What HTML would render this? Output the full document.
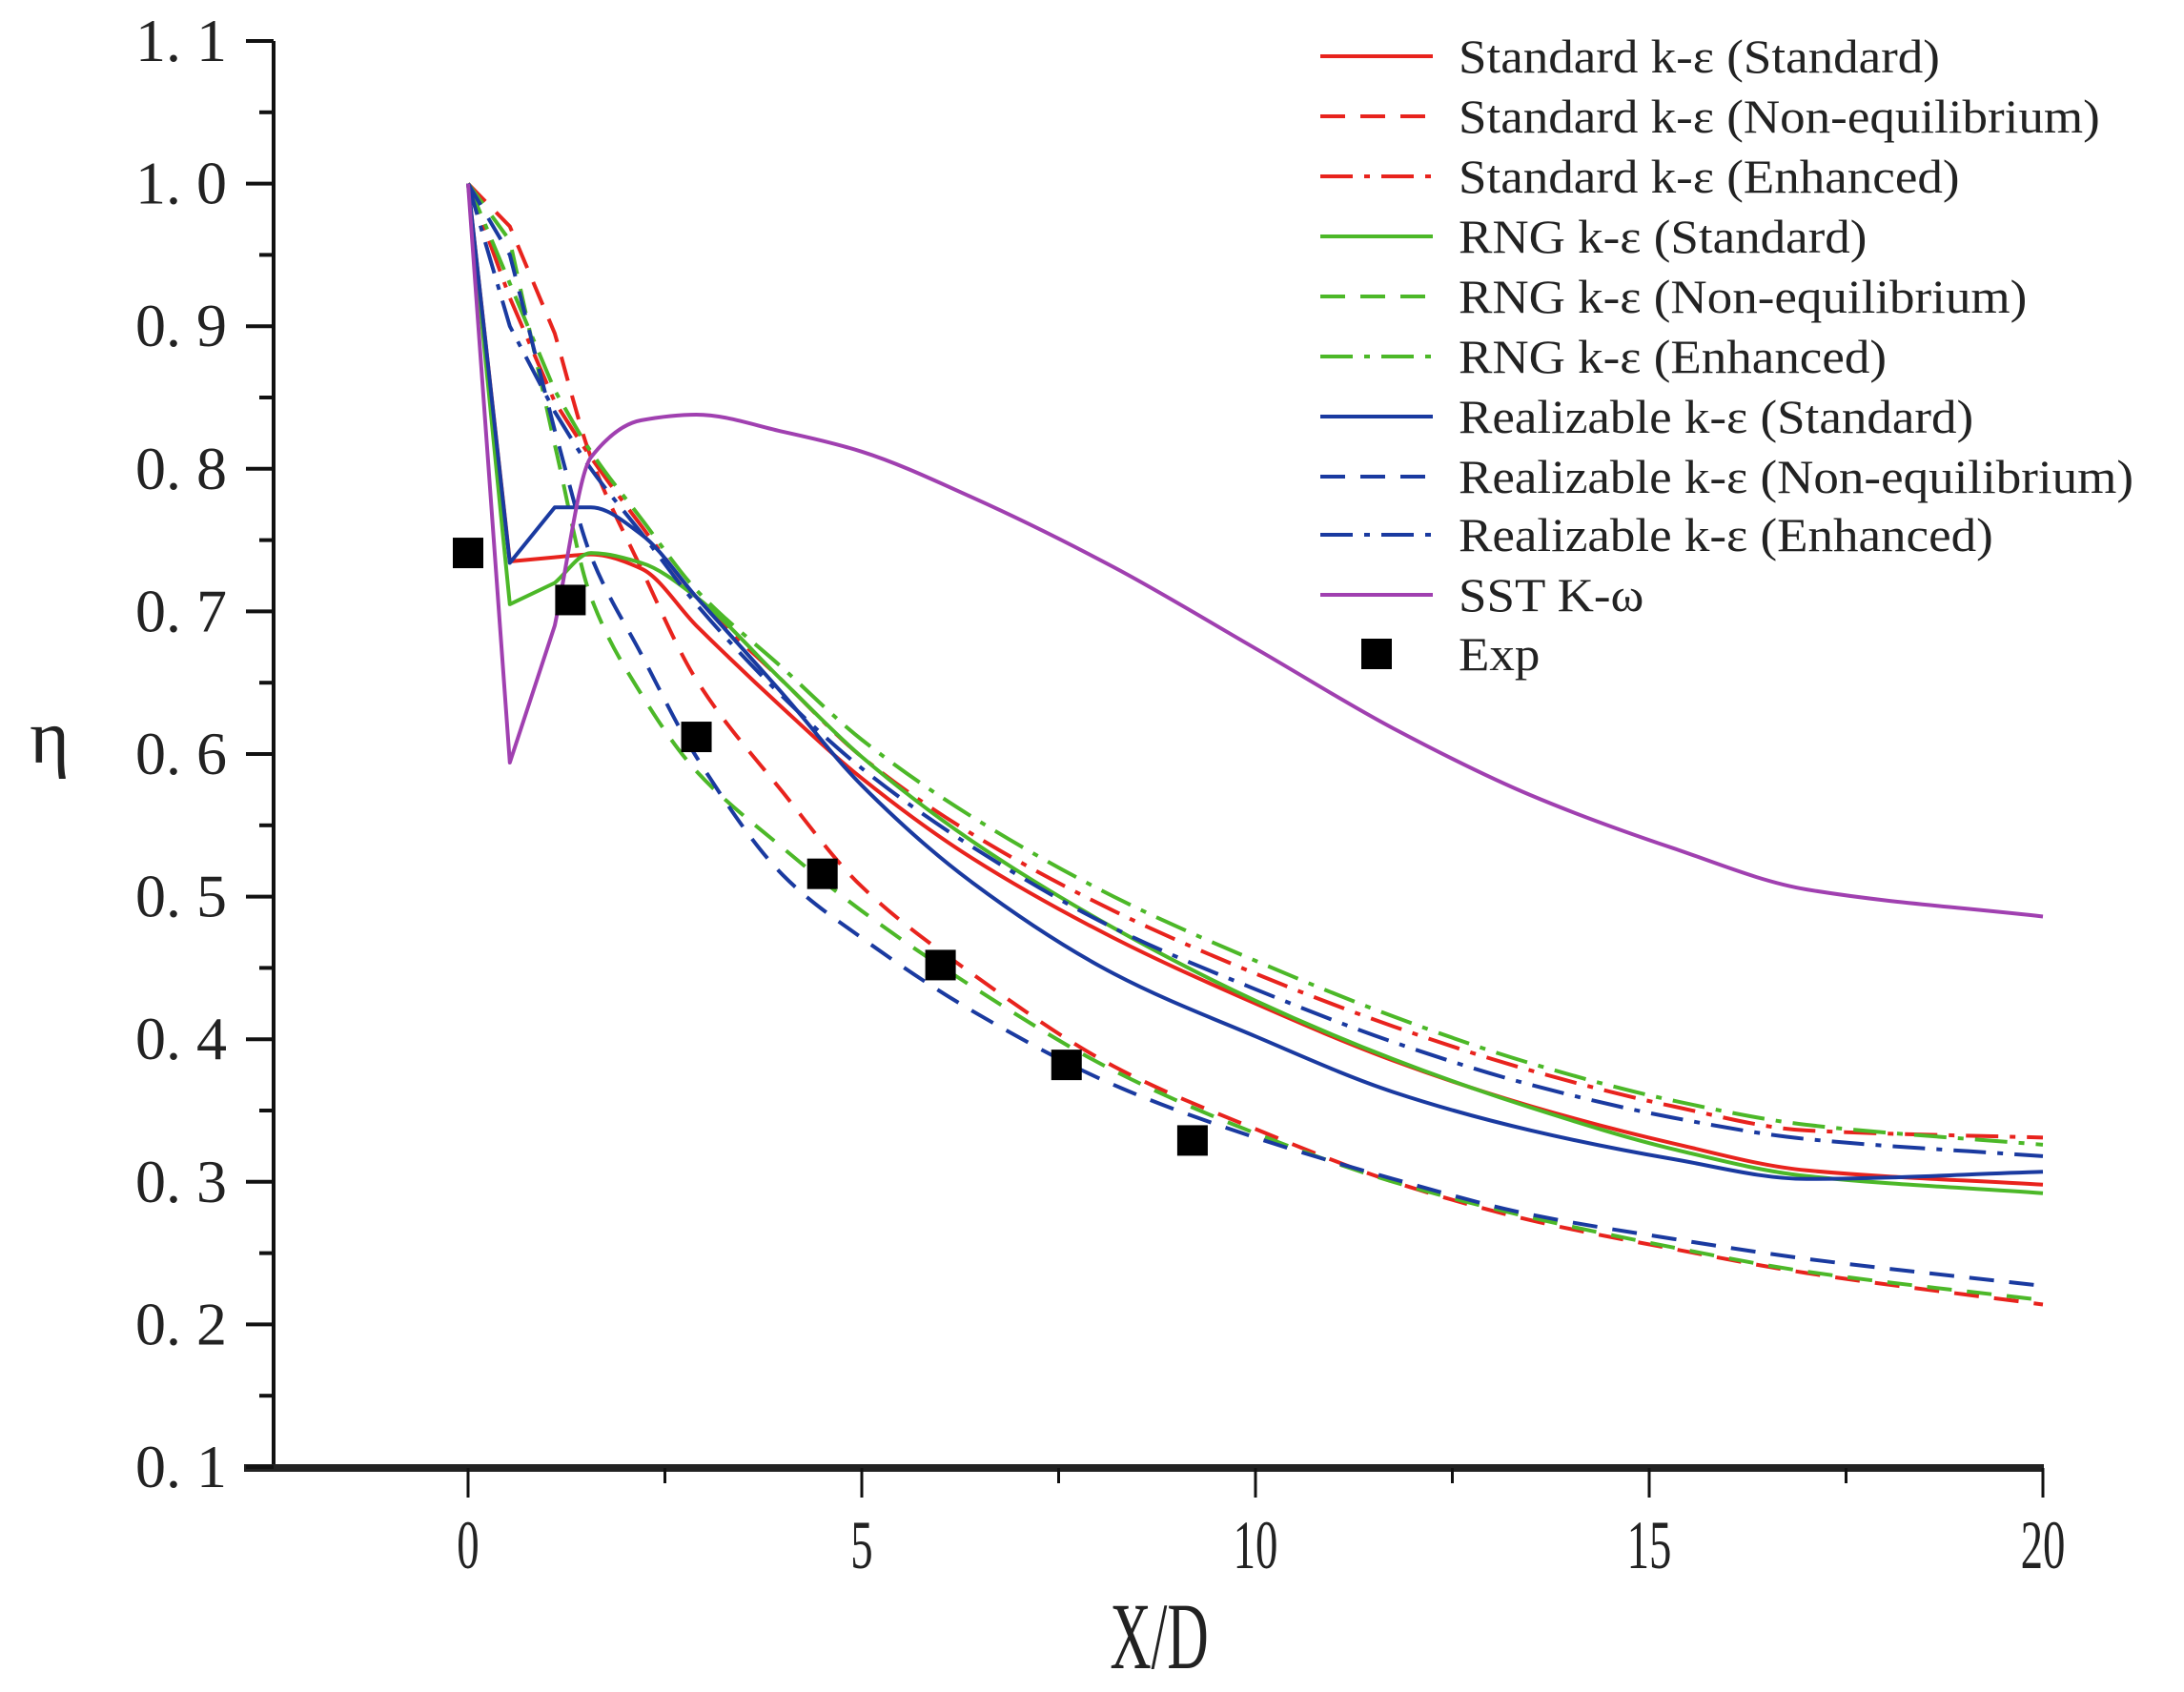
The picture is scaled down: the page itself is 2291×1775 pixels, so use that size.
<!DOCTYPE html>
<html><head><meta charset="utf-8"><style>
html,body{margin:0;padding:0;background:#fff;}
svg{display:block;}
text{font-family:"Liberation Serif",serif;fill:#222;}
</style></head><body>
<svg id="chart" width="2291" height="1775" viewBox="0 0 2291 1775" xmlns="http://www.w3.org/2000/svg">
<g id="axes"></g>
<g id="series"></g>
<g id="legend"></g>
</svg>
<script>
const xs = [0,0.53,1.1,1.56,2.2,2.9,4,5,6.4,8.2,10,11.75,13.5,15.3,17,20];
const stdStd = [1.0,0.735,0.738,0.74,0.73,0.69,0.632,0.583,0.527,0.471,0.425,0.385,0.353,0.327,0.308,0.298];
const stdNon = [1.0,0.97,0.895,0.808,0.73,0.652,0.573,0.507,0.446,0.381,0.337,0.3,0.273,0.253,0.236,0.214];
const stdEnh = [1.0,0.92,0.847,0.808,0.76,0.71,0.651,0.598,0.544,0.49,0.446,0.409,0.378,0.353,0.336,0.331];
const rngStd = [1.0,0.705,0.72,0.741,0.734,0.71,0.651,0.598,0.539,0.478,0.427,0.386,0.352,0.323,0.304,0.292];
const rngNon = [1.0,0.96,0.817,0.71,0.642,0.588,0.534,0.49,0.437,0.378,0.334,0.3,0.275,0.254,0.237,0.217];
const rngEnh = [1.0,0.93,0.855,0.812,0.765,0.715,0.66,0.61,0.556,0.5,0.455,0.416,0.383,0.357,0.34,0.326];
const realStd = [1.0,0.734,0.773,0.773,0.754,0.71,0.642,0.578,0.51,0.446,0.402,0.363,0.336,0.316,0.302,0.307];
const realNon = [1.0,0.95,0.827,0.739,0.67,0.598,0.515,0.471,0.42,0.368,0.331,0.302,0.277,0.26,0.246,0.227];
const realEnh = [1.0,0.9,0.84,0.8,0.755,0.705,0.64,0.59,0.535,0.478,0.435,0.398,0.368,0.345,0.33,0.318];
const sst = [1.0,0.594,0.69,0.808,0.834,0.838,0.826,0.812,0.78,0.731,0.674,0.618,0.571,0.534,0.505,0.486];
const expX = [0,1.3,2.9,4.5,6.0,7.6,9.2];
const expY = [0.741,0.708,0.612,0.516,0.452,0.382,0.329];
const yTicks = [0.1,0.2,0.3,0.4,0.5,0.6,0.7,0.8,0.9,1.0,1.1];
const yTickLabels = ["0. 1","0. 2","0. 3","0. 4","0. 5","0. 6","0. 7","0. 8","0. 9","1. 0","1. 1"];
const xTicks = [0,5,10,15,20];
const legendLabels = ["Standard k-ε (Standard)","Standard k-ε (Non-equilibrium)","Standard k-ε (Enhanced)","RNG k-ε (Standard)","RNG k-ε (Non-equilibrium)","RNG k-ε (Enhanced)","Realizable k-ε (Standard)","Realizable k-ε (Non-equilibrium)","Realizable k-ε (Enhanced)","SST K-ω","Exp"];

const NS="http://www.w3.org/2000/svg";
const X = v => 491 + (v)*82.6;
const Y = v => 1539 - (v-0.1)*1496;
function mk(tag, attrs, parent){const e=document.createElementNS(NS,tag);for(const k in attrs)e.setAttribute(k,attrs[k]);parent.appendChild(e);return e;}
function monoPath(px,py){
  const n=px.length, d=[], m=[];
  for(let i=0;i<n-1;i++) d.push((py[i+1]-py[i])/(px[i+1]-px[i]));
  m[0]=d[0]; m[n-1]=d[n-2];
  for(let i=1;i<n-1;i++){ m[i]=(d[i-1]*d[i]<=0)?0:(2/(1/d[i-1]+1/d[i])); }
  m[2]=d[2];
  let s='M'+px[0].toFixed(1)+','+py[0].toFixed(1);
  for(let i=0;i<n-1;i++){
    if(i<2){ s+=' L'+px[i+1].toFixed(1)+','+py[i+1].toFixed(1); continue; }
    const h=px[i+1]-px[i];
    s+=' C'+(px[i]+h/3).toFixed(1)+','+(py[i]+m[i]*h/3).toFixed(1)+' '+(px[i+1]-h/3).toFixed(1)+','+(py[i+1]-m[i+1]*h/3).toFixed(1)+' '+px[i+1].toFixed(1)+','+py[i+1].toFixed(1);
  }
  return s;
}
const axes=document.getElementById('axes');
const series=document.getElementById('series');
const legend=document.getElementById('legend');

let a=mk('line',{x1:287,y1:Y(1.1),x2:287,y2:1542,stroke:'#111','stroke-width':4},axes);


a=mk('line',{x1:256,y1:1540,x2:2144,y2:1540,stroke:'#222','stroke-width':8},axes);


for(let i=0;i<yTicks.length;i++){
  const y=Y(yTicks[i]);
  let t=mk('line',{x1:258,y1:y,x2:287,y2:y,stroke:'#111','stroke-width':4},axes);
  
  
  if(i<yTicks.length-1){
    t=mk('line',{x1:272,y1:Y(yTicks[i]+0.05),x2:287,y2:Y(yTicks[i]+0.05),stroke:'#111','stroke-width':4},axes);
    
    
  }
  const l=mk('text',{x:238,y:y+21,'text-anchor':'end','font-size':64},axes);
  l.textContent=yTickLabels[i];
  
  
}
for(let v=0;v<=20;v+=2.5){
  const major=xTicks.includes(v);
  let t=mk('line',{x1:X(v),y1:1540,x2:X(v),y2:major?1571:1556,stroke:'#111','stroke-width':3},axes);
  
  
}
for(const v of xTicks){
  const l=mk('text',{x:0,y:0,'text-anchor':'middle','font-size':60,transform:`translate(${X(v)},1645) scale(0.78,1.2)`},axes);
  l.textContent=String(v);
  
  
}
let tt=mk('text',{x:0,y:0,'text-anchor':'middle','font-size':80,transform:'translate(1216,1750) scale(0.75,1.25)'},axes);
tt.textContent='X/D';


tt=mk('text',{x:52,y:800,'text-anchor':'middle','font-size':80},axes);
tt.textContent='η';



const R='#e8231d',G='#4cb828',B='#1a3aa0',P='#a040b0';
const DASH='26 16', DD='34 12 6 12';
const defs=[
 [stdStd,R,'','series-standard-standard'],
 [stdNon,R,DASH,'series-standard-nonequilibrium'],
 [stdEnh,R,DD,'series-standard-enhanced'],
 [rngStd,G,'','series-rng-standard'],
 [rngNon,G,DASH,'series-rng-nonequilibrium'],
 [rngEnh,G,DD,'series-rng-enhanced'],
 [realStd,B,'','series-realizable-standard'],
 [realNon,B,DASH,'series-realizable-nonequilibrium'],
 [realEnh,B,DD,'series-realizable-enhanced'],
 [sst,P,'','series-sst-k-omega']
];
for(const [ys,c,d,n] of defs){
  const p=mk('path',{d:monoPath(xs.map(X),ys.map(Y)),fill:'none',stroke:c,'stroke-width':4,'stroke-dasharray':d||'none','stroke-linejoin':'round'},series);
  
  
}
for(let i=0;i<expX.length;i++){
  const r=mk('rect',{x:X(expX[i])-16,y:Y(expY[i])-16,width:32,height:32,fill:'#000'},series);
  
  
}
const ly=[59,122,185,248,311,374,437,500,561,624,686];
for(let i=0;i<legendLabels.length;i++){
  if(i<10){
    const [,c,d]=defs[i];
    const l=mk('line',{x1:1385,y1:ly[i],x2:1503,y2:ly[i],stroke:c,'stroke-width':4,'stroke-dasharray':d||'none'},legend);
    
    
  } else {
    const r=mk('rect',{x:1428,y:ly[i]-16,width:32,height:32,fill:'#000'},legend);
    
    
  }
  const t=mk('text',{x:0,y:0,'font-size':50,transform:`translate(1530,${ly[i]+17}) scale(1.06,1)`},legend);
  t.textContent=legendLabels[i];
  
  
}
</script>
</body></html>
